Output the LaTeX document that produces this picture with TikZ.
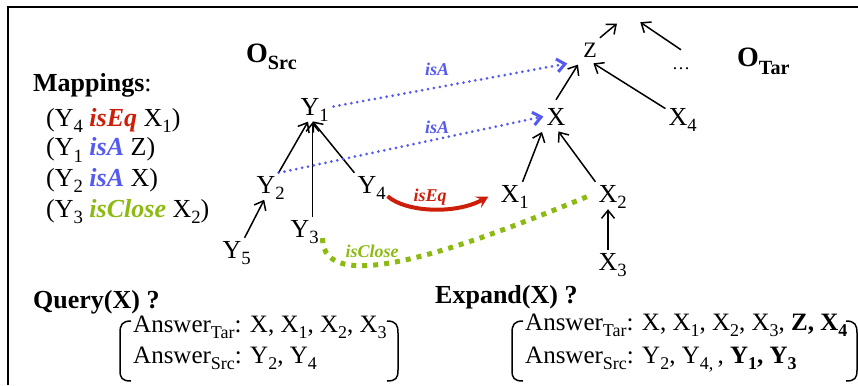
\documentclass[tikz,border=0pt]{standalone}
\usepackage{fontspec}
\setmainfont{Liberation Serif}
\usepackage{graphicx}
\usepackage{xcolor}
\usetikzlibrary{arrows.meta,positioning,calc}
\definecolor{isablue}{RGB}{85,90,240}
\definecolor{eqred}{RGB}{205,30,10}
\definecolor{closegreen}{RGB}{140,186,18}
\newcommand{\sbs}[1]{\raisebox{-0.25em}{\scalebox{0.72}{#1}}}
\newcommand{\rel}[2]{{\color{#1}\bfseries\itshape #2}}

\begin{document}
\begin{tikzpicture}[x=1pt,y=-1pt,
    nd/.style={font=\fontsize{26}{30}\selectfont,inner sep=3pt,text height=17pt,text depth=0pt},
    txt/.style={font=\fontsize{26}{30}\selectfont,inner sep=0pt,anchor=base west},
    ans/.style={font=\fontsize{25}{30}\selectfont,inner sep=0pt,anchor=base west},
    ttl/.style={font=\fontsize{28}{32}\selectfont\bfseries,inner sep=0pt,anchor=base west},
    lab/.style={font=\fontsize{18}{20}\selectfont,inner sep=0pt,anchor=base},
    tree/.style={-{Straight Barb[length=8pt,width=13pt]},line width=1.5pt,shorten >=4pt},
    isa/.style={-{Straight Barb[length=8pt,width=13pt]},isablue,line width=3pt,
      line cap=round,dash pattern=on 0pt off 6pt},
    iseq/.style={-{Stealth[length=12pt,width=13pt,inset=5pt]},eqred,line width=4pt},
    isclose/.style={closegreen,line width=5pt,dash pattern=on 5pt off 6pt},
    brk/.style={line width=1.5pt}]
  \useasboundingbox (0,0) rectangle (858,385);
  \draw[line width=2pt] (8,385) -- (8,7) -- (858,7);

  % ontology titles
  \node[ttl] (osrc) at (246,63) {O\sbs{Src}};
  \node[ttl] (otar) at (737,67) {O\sbs{Tar}};

  % mappings
  \node[txt] (maphead) at (33,92) {\textbf{Mappings}:};
  \node[txt] (map1) at (46,126) {(Y\sbs{4} \rel{eqred}{isEq} X\sbs{1})};
  \node[txt] (map2) at (46,155.5) {(Y\sbs{1} \rel{isablue}{isA} Z)};
  \node[txt] (map3) at (46,186) {(Y\sbs{2} \rel{isablue}{isA} X)};
  \node[txt] (map4) at (46,217) {(Y\sbs{3} \rel{closegreen}{isClose} X\sbs{2})};

  % source ontology
  \node[nd] (y1) at (310,106.5) {Y\rlap{\sbs{1}}};
  \node[nd] (y2) at (266,184.5) {Y\rlap{\sbs{2}}};
  \node[nd] (y4) at (367,184.5) {Y\rlap{\sbs{4}}};
  \node[nd] (y3) at (300,228.5) {Y\rlap{\sbs{3}}};
  \node[nd] (y5) at (232,249.5) {Y\rlap{\sbs{5}}};
  \draw[tree] (y2.north east) -- (y1.south);
  \draw[tree] (y4.north west) -- (y1.south);
  \draw[tree] (y3.north east) -- (y3.north east |- y1.south);
  \draw[tree] (y5.north east) -- (y2.south);

  % target ontology
  \node[nd] (x) at (556,116.5) {X};
  \node[nd,font=\fontsize{22}{26}\selectfont] (z) at (590,49.5) {Z};
  \node[nd] (x4) at (678,116.5) {X\rlap{\sbs{4}}};
  \node[nd] (x1) at (510,193.5) {X\rlap{\sbs{1}}};
  \node[nd] (x2) at (608,193.5) {X\rlap{\sbs{2}}};
  \node[nd] (x3) at (608,261.5) {X\rlap{\sbs{3}}};
  \node[nd,font=\fontsize{18}{20}\selectfont] (dots) at (681,61.5) {\dots};
  \coordinate (topz) at (620,21);
  \coordinate (topd) at (637,20);
  \draw[tree] (x1.north east) -- (x.south west);
  \draw[tree] (x2.north west) -- (x.south);
  \draw[tree] (x3) -- (x2);
  \draw[tree] ([yshift=5pt]x.north) -- (z.south west);
  \draw[tree] (x4) -- (z.south);
  \draw[tree] (z.north east) -- (topz);
  \draw[tree] (dots.north) -- (topd);

  % correspondences
  \draw[isa,shorten >=13pt] ([xshift=11pt]y1.east) -- (z.south west);
  \draw[isa] (y2.north east) -- (x.west);
  \node[lab] (isa1) at (437,76) {\rel{isablue}{isA}};
  \node[lab] (isa2) at (437,133) {\rel{isablue}{isA}};
  \draw[iseq] ([xshift=8pt]y4.south east) .. controls (405,212) and (455,215) .. ([shift={(-9,3)}]x1.west);
  \node[lab] (iseqlab) at (430,201.5) {\rel{eqred}{isEq}};
  \draw[isclose] ([shift={(10,-2)}]y3.south east) .. controls (322,300) and (470,245) .. ([shift={(-8,3)}]x2.west);
  \node[lab] (iscloselab) at (372,257) {\rel{closegreen}{isClose}};

  % queries
  \node[txt] (query) at (33,308) {\textbf{Query(X) ?}};
  \node[ans] (qtar) at (133,332) {Answer\sbs{Tar}: X, X\sbs{1}, X\sbs{2}, X\sbs{3}};
  \node[ans] (qsrc) at (133,363) {Answer\sbs{Src}: Y\sbs{2}, Y\sbs{4}};
  \draw[brk] (131,321) .. controls (122,321) and (120,325) .. (120,333) -- (120,370) .. controls (120,378) and (122,381) .. (131,381);
  \draw[brk] (387,321) .. controls (396,321) and (398,325) .. (398,333) -- (398,370) .. controls (398,378) and (396,381) .. (387,381);

  \node[txt] (expand) at (435,303) {\textbf{Expand(X) ?}};
  \node[ans] (etar) at (525,330) {Answer\sbs{Tar}: X, X\sbs{1}, X\sbs{2}, X\sbs{3}, \textbf{Z, X\sbs{4}}};
  \node[ans] (esrc) at (525,363) {Answer\sbs{Src}: Y\sbs{2}, Y\sbs{4,}\,, \textbf{Y\sbs{1}, Y\sbs{3}}};
  \draw[brk] (523,321) .. controls (514,321) and (512,325) .. (512,333) -- (512,370) .. controls (512,378) and (514,381) .. (523,381);
  \draw[brk] (846,321) .. controls (855,321) and (857,325) .. (857,333) -- (857,370) .. controls (857,378) and (855,381) .. (846,381);
\end{tikzpicture}
\end{document}
